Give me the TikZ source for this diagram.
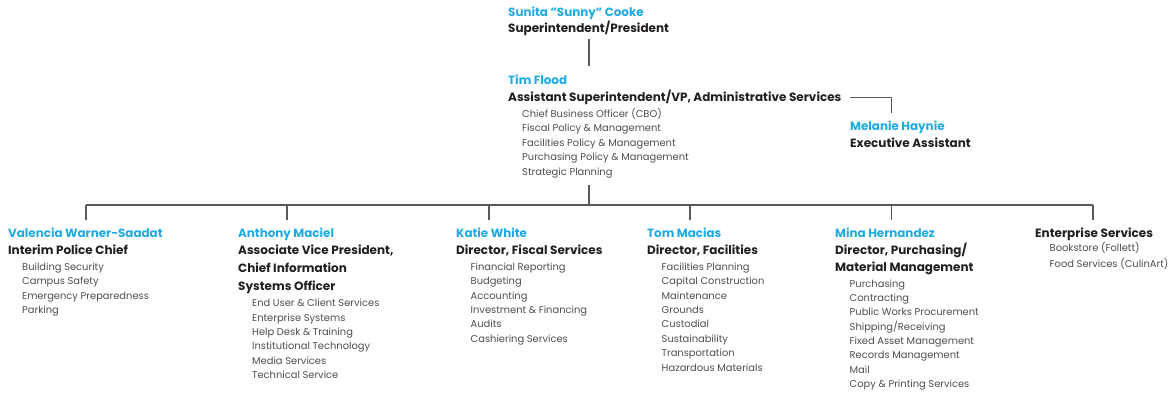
\documentclass[tikz,border=0pt]{standalone}
\usepackage{fontspec}
\setmainfont{Poppins}
\usepackage{xcolor}
\usetikzlibrary{positioning}

\definecolor{namecol}{HTML}{1FAAE4}
\definecolor{titlecol}{HTML}{231F20}
\definecolor{dutycol}{HTML}{4D4D4F}
\definecolor{wirecol}{HTML}{58595B}

\tikzset{
  person/.style={anchor=base west, inner sep=0pt, text=namecol, font=\fontsize{11.9}{11.9}\selectfont\bfseries},
  jobtitle/.style={anchor=base west, inner sep=0pt, text=titlecol, font=\fontsize{12}{12}\selectfont\bfseries},
  duty/.style={anchor=base west, inner sep=0pt, text=dutycol, font=\fontsize{9.9}{9.9}\selectfont},
  wire/.style={draw=wirecol, line width=1.3pt}
}

\begin{document}
\begin{tikzpicture}[x=1pt,y=-1pt]
\useasboundingbox (0,0) rectangle (1172,396);

% Superintendent
\node[person] (sunita) at (508,17) {Sunita "Sunny" Cooke};
\node[jobtitle] (president) at (508,32.5) {Superintendent/President};
\coordinate (presbot) at (589,39);
\coordinate (vptop) at (589,66);
\draw[wire] (presbot) -- (vptop);

% Assistant Superintendent / VP
\node[person] (tim) at (508,84.5) {Tim Flood};
\node[jobtitle] (vp) at (508,101.5) {Assistant Superintendent/VP, Administrative Services};
\foreach \d [count=\i from 0] in {Chief Business Officer (CBO), Fiscal Policy \& Management,
    Facilities Policy \& Management, Purchasing Policy \& Management, Strategic Planning}
  \node[duty] (vp\i) at (522,117.5+14.4*\i) {\d};

% Executive Assistant
\coordinate (eaL) at (850,97.7);
\coordinate (eaC) at (891.5,97.7);
\coordinate (eaB) at (891.5,113);
\draw[wire] (eaL) -- (eaC) -- (eaB);
\node[person] (melanie) at (850,130.5) {Melanie Haynie};
\node[jobtitle] (assistant) at (850,147.5) {Executive Assistant};

% Bus to the departments
\coordinate (vpbot) at (589,185);
\coordinate (busmid) at (589,205);
\draw[wire] (vpbot) -- (busmid);
\coordinate (busL) at (86,205);
\coordinate (busR) at (1093,205);
\draw[wire] (busL) -- (busR);
\foreach \x/\n in {86/police, 287/it, 489/fiscal, 690/facil, 891.5/purch, 1093/enter} {
  \coordinate (top-\n) at (\x,205);
  \coordinate (bot-\n) at (\x,220);
  \draw[wire] (top-\n) -- (bot-\n);
}

% Police
\node[person] (valencia) at (8,237.5) {Valencia Warner-Saadat};
\node[jobtitle] (police) at (8,254.3) {Interim Police Chief};
\foreach \d [count=\i from 0] in {Building Security, Campus Safety, Emergency Preparedness, Parking}
  \node[duty] (pol\i) at (22,270.3+14.4*\i) {\d};

% Information systems
\node[person] (anthony) at (238,237.5) {Anthony Maciel};
\node[jobtitle] (cio1) at (238,254.3) {Associate Vice President,};
\node[jobtitle] (cio2) at (238,272.3) {Chief Information};
\node[jobtitle] (cio3) at (238,290.3) {Systems Officer};
\foreach \d [count=\i from 0] in {End User \& Client Services, Enterprise Systems, Help Desk \& Training,
    Institutional Technology, Media Services, Technical Service}
  \node[duty] (cio\i) at (252,306.7+14.35*\i) {\d};

% Fiscal services
\node[person] (katie) at (456,237.5) {Katie White};
\node[jobtitle] (fiscal) at (456,254.3) {Director, Fiscal Services};
\foreach \d [count=\i from 0] in {Financial Reporting, Budgeting, Accounting,
    Investment \& Financing, Audits, Cashiering Services}
  \node[duty] (fis\i) at (470.5,270.3+14.35*\i) {\d};

% Facilities
\node[person] (tom) at (647,237.5) {Tom Macias};
\node[jobtitle] (facil) at (647,254.3) {Director, Facilities};
\foreach \d [count=\i from 0] in {Facilities Planning, Capital Construction, Maintenance, Grounds,
    Custodial, Sustainability, Transportation, Hazardous Materials}
  \node[duty] (fac\i) at (661.5,270.3+14.4*\i) {\d};

% Purchasing
\node[person] (mina) at (835,237.5) {Mina Hernandez};
\node[jobtitle] (purch1) at (835,254.3) {Director, Purchasing/};
\node[jobtitle] (purch2) at (835,271.5) {Material Management};
\foreach \d [count=\i from 0] in {Purchasing, Contracting, Public Works Procurement, Shipping/Receiving,
    Fixed Asset Management, Records Management, Mail, Copy \& Printing Services}
  \node[duty] (pur\i) at (849.5,287.3+14.3*\i) {\d};

% Enterprise services
\node[jobtitle] (enter) at (1035,237) {Enterprise Services};
\node[duty] (ent0) at (1049.5,251.5) {Bookstore (Follett)};
\node[duty] (ent1) at (1049.5,267) {Food Services (CulinArt)};
\end{tikzpicture}
\end{document}
